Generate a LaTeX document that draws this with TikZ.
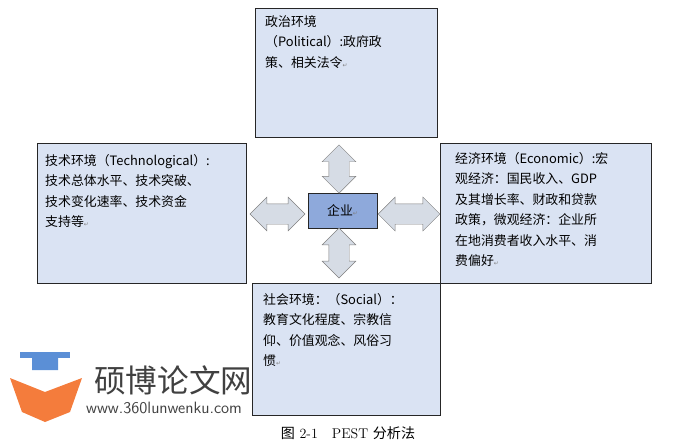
\documentclass[tikz,border=0pt]{standalone}
\usepackage{fontspec}
\newfontfamily\cjk{Noto Sans CJK SC}
\newfontfamily\symfont{DejaVu Sans}
\usetikzlibrary{shapes.arrows}
\definecolor{boxfill}{HTML}{DAE3F3}
\definecolor{corefill}{HTML}{8EA9DB}
\definecolor{arrowfill}{HTML}{D6DCE5}
\definecolor{logoorange}{HTML}{F47C3C}
\definecolor{logoblue}{HTML}{5B8FD6}
\newcommand{\pmark}{{\symfont\color{gray}\tiny ↵}}
\begin{document}
\begin{tikzpicture}[x=0.03cm,y=-0.03cm,
    env box/.style={draw=black!85,fill=boxfill,thick},
    env text/.style={anchor=north west,inner sep=0pt,align=left,font=\cjk\fontsize{11}{17.5}\selectfont},
    both arrow/.style={double arrow,draw=gray,fill=arrowfill,double arrow head extend=0.2cm,inner xsep=0pt,inner ysep=0.3cm}]
    \useasboundingbox (0,0) rectangle (696,445);

    % four environments
    \draw[env box] (255,8) rectangle (437,137);
    \node[env text,text width=5.1cm] (pol) at (265,15) {政治环境\\（Political）:政府政\\策、相关法令\pmark};
    \draw[env box] (37,143) rectangle (246,283);
    \node[env text,text width=6.0cm] (tec) at (45,154) {技术环境（Technological）:\\技术总体水平、技术突破、\\技术变化速率、技术资金\\支持等\pmark};
    \draw[env box] (440,143) rectangle (651,283);
    \node[env text,text width=6.0cm] (eco) at (455,152) {经济环境（Economic）:宏\\观经济：国民收入、GDP\\及其增长率、财政和贷款\\政策，微观经济：企业所\\在地消费者收入水平、消\\费偏好\pmark};
    \draw[env box] (252,283) rectangle (440,415);
    \node[env text,text width=5.4cm] (soc) at (263,293) {社会环境：（Social）：\\教育文化程度、宗教信\\仰、价值观念、风俗习\\惯\pmark};

    % centre
    \draw[fill=corefill,draw=black!85,thick] (308,193) rectangle (377,228);
    \node[font=\cjk\fontsize{11}{13}\selectfont] (firm) at (342.5,210.5) {企业\pmark};

    % arrows
    \node[both arrow,rotate=90,minimum height=1.45cm] (up) at (339,169) {};
    \node[both arrow,rotate=90,minimum height=1.5cm] (down) at (339,253) {};
    \node[both arrow,minimum height=1.65cm] (left) at (277.5,214) {};
    \node[both arrow,minimum height=1.85cm] (right) at (409,214) {};

    % watermark
    \fill[logoorange] (10,378) -- (45,392) -- (82,378) -- (70,412) -- (45,422) -- (22,412) -- cycle;
    \fill[logoblue] (20,352) rectangle (70,358);
    \fill[logoblue] (32,358) rectangle (58,370) arc (0:-180:13 and 8) -- cycle;
    \node[anchor=west,font=\cjk\fontsize{27}{30}\selectfont,text=black!75] (wm) at (90,380) {硕博论文网};
    \node[anchor=west,font=\fontsize{14}{16}\sffamily,text=black!75] (url) at (82,408) {www.360lunwenku.com};

    % caption
    \node[font=\fontsize{12}{14}\selectfont] (cap) at (348,433) {{\cjk 图} 2-1\quad PEST {\cjk 分析法}};
\end{tikzpicture}
\end{document}
